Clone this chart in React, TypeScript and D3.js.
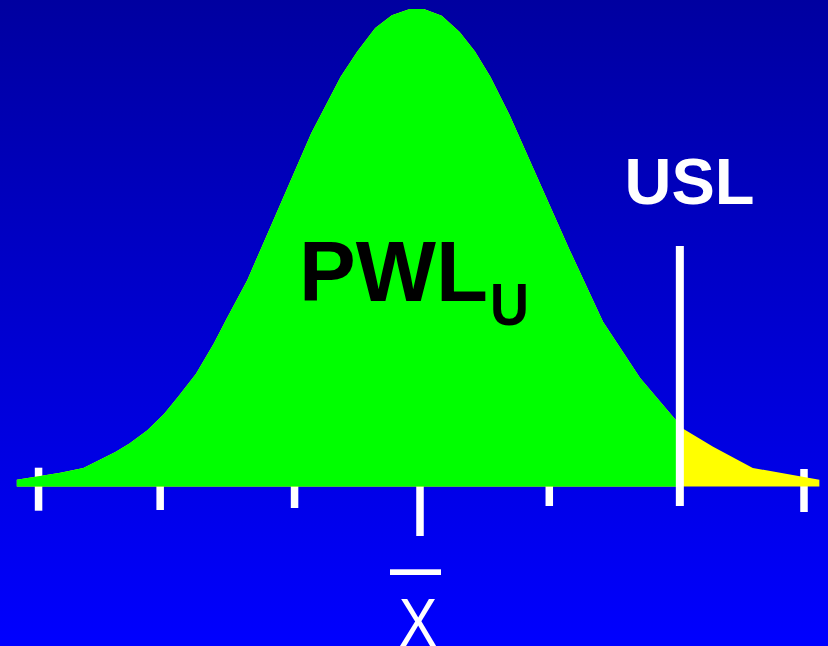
import React from "react";
import * as d3 from "d3";

// Curve: position in sigma units, height relative to peak
const curveZ = [-3.15, -2.81, -2.63, -2.38, -2.27, -2.13, -2.0, -1.89, -1.75, -1.61, -1.51, -1.35, -1.15, -0.85, -0.62, -0.49, -0.35, -0.22, -0.08, 0.03, 0.17, 0.31, 0.43, 0.55, 0.7, 1.17, 1.43, 1.72, 2.0, 2.03, 2.29, 2.6, 3.12];
const curveH = [0.014, 0.029, 0.039, 0.072, 0.09, 0.118, 0.152, 0.188, 0.236, 0.3, 0.352, 0.432, 0.555, 0.74, 0.858, 0.911, 0.96, 0.987, 1.0, 1.0, 0.986, 0.952, 0.911, 0.858, 0.778, 0.495, 0.345, 0.227, 0.139, 0.125, 0.083, 0.039, 0.014];

// Tick marks along the axis (sigma units)
const tickValues = [-2.98, -2.03, -0.98, 0, 1.01, 3.0];
const uslValue = 2.03;

const W = 828;
const H = 646;

export default function App() {
  React.useEffect(() => {
    document.body.style.margin = "0";
  }, []);

  const x = d3.scaleLinear().domain([-3, 3]).range([36, 804]);
  const y = d3.scaleLinear().domain([0, 1]).range([486.5, 9]);

  const pts = curveZ.map((z, i) => ({ z, h: curveH[i] }));
  const area = d3
    .area<{ z: number; h: number }>()
    .x((d) => x(d.z))
    .y0(y(0))
    .y1((d) => y(d.h))
    .curve(d3.curveLinear);
  const areaPath = area(pts) || "";

  // tick extents (top, bottom) in pixels – styling
  const tickSpans: [number, number][] = [
    [467.7, 510.7],
    [486, 510],
    [486, 508],
    [486, 536],
    [486, 506],
    [469, 512],
  ];
  const tickW = 7.5;
  const font = "'Liberation Sans', Arial, Helvetica, sans-serif";
  const uslX = x(uslValue);

  return (
    <svg
      width={W}
      height={H}
      style={{ position: "absolute", left: 0, top: 0, display: "block" }}
    >
      <defs>
        <linearGradient id="bg" x1="0" y1="0" x2="0" y2="1">
          <stop offset="0" stopColor="#0000A0" />
          <stop offset="1" stopColor="#0000FF" />
        </linearGradient>
        <clipPath id="leftOfUsl">
          <rect x={0} y={0} width={uslX} height={H} />
        </clipPath>
      </defs>
      <rect x={0} y={0} width={W} height={H} fill="url(#bg)" />

      {tickValues.map((t, i) => (
        <rect
          key={i}
          x={x(t) - tickW / 2}
          y={tickSpans[i][0]}
          width={tickW}
          height={tickSpans[i][1] - tickSpans[i][0]}
          fill="#FFFFFF"
        />
      ))}

      <path d={areaPath} fill="#FFFF00" />
      <path d={areaPath} fill="#00FF00" clipPath="url(#leftOfUsl)" />

      <rect x={uslX - 4} y={246} width={8} height={506 - 246} fill="#FFFFFF" />

      <text
        x={299}
        y={300.7}
        fontFamily={font}
        fontWeight="bold"
        fontSize={85}
        fill="#000000"
      >
        PWL
      </text>
      <text
        transform="translate(490,325) scale(0.9,1)"
        fontFamily={font}
        fontWeight="bold"
        fontSize={60}
        fill="#000000"
      >
        U
      </text>

      <text
        x={624.5}
        y={204.3}
        fontFamily={font}
        fontWeight="bold"
        fontSize={65}
        fill="#FFFFFF"
      >
        USL
      </text>

      <rect x={390} y={569.3} width={51} height={5.7} fill="#FFFFFF" />
      <text
        transform="translate(418,645.5) scale(0.85,1)"
        textAnchor="middle"
        fontFamily={font}
        fontSize={68}
        fill="#FFFFFF"
      >
        X
      </text>
    </svg>
  );
}
